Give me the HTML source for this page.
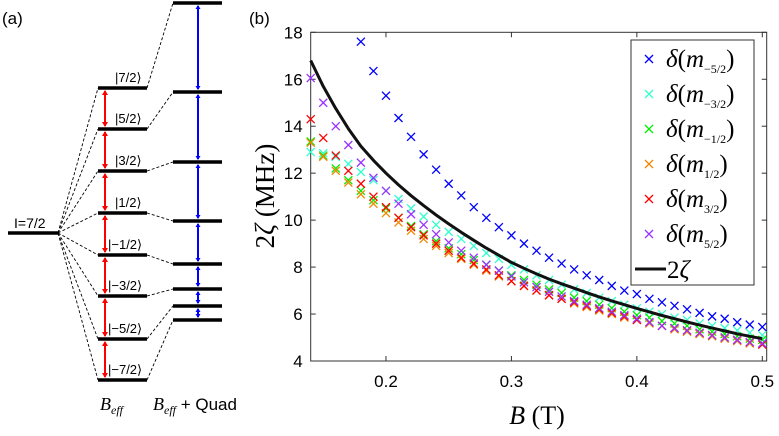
<!DOCTYPE html>
<html><head><meta charset="utf-8"><style>
html,body{margin:0;padding:0;background:#fff;}
svg{display:block;font-family:"Liberation Sans",sans-serif;}
.serif{font-family:"Liberation Serif",serif;}
</style></head><body>
<svg id="fig" width="779" height="436" viewBox="0 0 779 436">
<g id="panelA"></g>
<g id="panelB"></g>
</svg>
<script>
const NS="http://www.w3.org/2000/svg";
function mk(tag,attrs,parent,text){const e=document.createElementNS(NS,tag);for(const k in attrs)e.setAttribute(k,attrs[k]);if(text!==undefined)e.textContent=text;parent.appendChild(e);return e;}

// ---------- Panel (a) ----------
const A=document.getElementById('panelA');
const t=mk('text',{x:2,y:24,'font-size':17},A,'(a)');


const beffY=[88,129,171,213,255,296,339,380];
const quadY=[3,92,162,221,264,289,306,320];
const labels=['|7/2⟩','|5/2⟩','|3/2⟩','|1/2⟩','|−1/2⟩','|−3/2⟩','|−5/2⟩','|−7/2⟩'];
const base=mk('line',{x1:8,y1:233,x2:58,y2:233,stroke:'#000','stroke-width':3.5},A);


const bl=mk('text',{x:14,y:228,'font-size':14},A,'I=7/2');


for(let i=0;i<8;i++){
  mk('line',{x1:58,y1:233,x2:98,y2:beffY[i],stroke:'#000','stroke-width':0.9,'stroke-dasharray':'3,2'},A);
  mk('line',{x1:147,y1:beffY[i],x2:173,y2:quadY[i],stroke:'#000','stroke-width':0.9,'stroke-dasharray':'3,2'},A);
  const l=mk('line',{x1:98,y1:beffY[i],x2:147,y2:beffY[i],stroke:'#000','stroke-width':3.5},A);
  
  
  const q=mk('line',{x1:173,y1:quadY[i],x2:222,y2:quadY[i],stroke:'#000','stroke-width':3.5},A);
  
  
  const tx=mk('text',{x:i<4?115:108,y:beffY[i]-6,'font-size':13},A,labels[i]);
  
  
}
for(let i=0;i<7;i++){
  const r=mk('line',{x1:105,y1:beffY[i]+3,x2:105,y2:beffY[i+1]-3,stroke:'#f00','stroke-width':2},A);
  
  
  mk('path',{d:`M102,${beffY[i]+7}L105,${beffY[i]+2}L108,${beffY[i]+7}ZM102,${beffY[i+1]-7}L105,${beffY[i+1]-2}L108,${beffY[i+1]-7}Z`,fill:'#f00'},A);
  const b=mk('line',{x1:198,y1:quadY[i]+3,x2:198,y2:quadY[i+1]-3,stroke:'#00f','stroke-width':2},A);
  
  
  mk('path',{d:`M195.5,${quadY[i]+6}L198,${quadY[i]+2}L200.5,${quadY[i]+6}ZM195.5,${quadY[i+1]-6}L198,${quadY[i+1]-2}L200.5,${quadY[i+1]-6}Z`,fill:'#00f'},A);
}
const bx=mk('text',{x:100,y:410,'font-size':18,'font-style':'italic',class:'serif'},A);
bx.innerHTML='B<tspan font-size="12" dy="4">eff</tspan>';


const qx=mk('text',{x:153,y:410,'font-size':17},A);
qx.innerHTML='<tspan class="serif" font-style="italic" font-size="18">B</tspan><tspan class="serif" font-style="italic" font-size="12" dy="4">eff</tspan><tspan dy="-4"> + Quad</tspan>';



// ---------- Panel (b) data ----------
const xs=[0.14,0.15,0.16,0.17,0.18,0.19,0.20,0.21,0.22,0.23,0.24,0.25,0.26,0.27,0.28,0.29,0.30,0.31,0.32,0.33,0.34,0.35,0.36,0.37,0.38,0.39,0.40,0.41,0.42,0.43,0.44,0.45,0.46,0.47,0.48,0.49,0.50];
const mM52=[null,null,null,null,17.6,16.35,15.3,14.35,13.55,12.8,12.15,11.55,11.05,10.55,10.1,9.7,9.35,9.0,8.7,8.4,8.15,7.9,7.65,7.45,7.2,7.0,6.85,6.65,6.5,6.35,6.2,6.05,5.9,5.8,5.65,5.55,5.45];
const mM32=[12.9,12.85,12.7,12.4,12.05,11.7,11.25,10.9,10.5,10.15,9.8,9.5,9.2,8.9,8.6,8.35,8.1,7.9,7.65,7.45,7.25,7.05,6.9,6.7,6.55,6.4,6.25,6.1,6.0,5.85,5.75,5.6,5.5,5.4,5.3,5.2,5.1];
const mM12=[13.35,12.75,12.2,11.7,11.25,10.85,10.5,10.1,9.75,9.4,9.1,8.8,8.55,8.3,8.1,7.85,7.65,7.45,7.25,7.05,6.9,6.7,6.55,6.4,6.25,6.1,5.95,5.85,5.7,5.6,5.5,5.35,5.25,5.15,5.05,4.95,4.9];
const mP12=[13.3,12.7,12.1,11.6,11.1,10.7,10.3,9.9,9.55,9.2,8.9,8.6,8.35,8.1,7.85,7.6,7.4,7.2,7.0,6.8,6.65,6.45,6.3,6.15,6.0,5.85,5.75,5.6,5.5,5.35,5.25,5.15,5.05,4.95,4.85,4.75,4.7];
const mP32=[14.3,13.5,12.75,12.1,11.55,11.0,10.55,10.1,9.7,9.35,9.0,8.7,8.4,8.15,7.9,7.65,7.4,7.2,7.0,6.8,6.65,6.5,6.35,6.2,6.05,5.9,5.75,5.65,5.5,5.4,5.3,5.2,5.1,5.0,4.9,4.8,4.7];
const mP52=[16.05,15.0,14.0,13.2,12.45,11.8,11.25,10.7,10.25,9.8,9.4,9.05,8.7,8.4,8.1,7.85,7.6,7.35,7.15,6.95,6.75,6.55,6.4,6.25,6.1,5.95,5.8,5.65,5.5,5.4,5.3,5.2,5.1,5.0,4.9,4.8,4.75];
const zeta2=[16.8,15.7,14.75,13.9,13.15,12.55,12.0,11.5,11.04,10.62,10.22,9.84,9.48,9.14,8.81,8.5,8.2,7.95,7.71,7.49,7.29,7.10,6.91,6.73,6.56,6.40,6.24,6.09,5.94,5.80,5.66,5.53,5.40,5.28,5.16,5.05,4.95];
const xTicks=[0.2,0.3,0.4,0.5];
const yTicks=[4,6,8,10,12,14,16,18];
const seriesColors=['#0000ff','#33ffcc','#00ee00','#ee8800','#ff0000','#9933ff'];
const seriesSubs=['−5/2','−3/2','−1/2','1/2','3/2','5/2'];

const L=310.7,R=766.7,T=32.3,Bt=361;
const X=v=>L+(v-0.14)/(0.5035-0.14)*(R-L);
const Y=v=>Bt-(v-4)/14*(Bt-T);

const P=document.getElementById('panelB');
const pl=mk('text',{x:249,y:24,'font-size':17},P,'(b)');


const box=mk('rect',{x:L,y:T,width:R-L,height:Bt-T,fill:'none',stroke:'#333','stroke-width':1},P);


yTicks.forEach(v=>{
  mk('line',{x1:L,y1:Y(v),x2:L+5,y2:Y(v),stroke:'#333'},P);
  mk('line',{x1:R,y1:Y(v),x2:R-5,y2:Y(v),stroke:'#333'},P);
  const tl=mk('text',{x:L-8,y:Y(v)+6,'font-size':17,'text-anchor':'end'},P,String(v));
  
  
});
xTicks.forEach(v=>{
  mk('line',{x1:X(v),y1:Bt,x2:X(v),y2:Bt-5,stroke:'#333'},P);
  mk('line',{x1:X(v),y1:T,x2:X(v),y2:T+5,stroke:'#333'},P);
  const tl=mk('text',{x:X(v),y:Bt+26,'font-size':17,'text-anchor':'middle'},P,String(v));
  
  
});
const yl=mk('text',{x:0,y:0,'font-size':27,class:'serif','text-anchor':'middle',transform:'translate(274,196) rotate(-90)'},P);
yl.innerHTML='2<tspan font-style="italic">ζ</tspan> (MHz)';


const xl=mk('text',{x:537,y:424,'font-size':26,class:'serif','text-anchor':'middle'},P);
xl.innerHTML='<tspan font-style="italic">B</tspan> (T)';



const allSeries=[mM52,mM32,mM12,mP12,mP32,mP52];
function cross(cx,cy,col,parent){
  return mk('path',{d:`M${cx-4},${cy-4}L${cx+4},${cy+4}M${cx-4},${cy+4}L${cx+4},${cy-4}`,stroke:col,'stroke-width':1.3,fill:'none'},parent);
}
allSeries.forEach((s,si)=>{
  const g=mk('g',{},P);
  
  
  s.forEach((v,i)=>{
    if(v===null)return;
    const c=cross(X(xs[i]),Y(v),seriesColors[si],g);
    
    
  });
});
const d=zeta2.map((v,i)=>(i?'L':'M')+X(xs[i]).toFixed(1)+','+Y(v).toFixed(1)).join('');
const ln=mk('path',{d:d,stroke:'#111','stroke-width':3,fill:'none','stroke-linejoin':'round'},P);



// legend
const lg=mk('g',{},P);


mk('rect',{x:631,y:40,width:123,height:245,fill:'#fff',stroke:'#333','stroke-width':1},lg);
seriesSubs.forEach((sub,i)=>{
  const y=59+i*35;
  const c=cross(649,y,seriesColors[i],lg);
  
  
  const tx=mk('text',{x:666,y:y+8,'font-size':25,class:'serif'},lg);
  tx.innerHTML='<tspan font-style="italic">δ</tspan>(<tspan font-style="italic">m</tspan><tspan font-size="12" dy="6">'+sub+'</tspan><tspan dy="-6">)</tspan>';
  
  
});
mk('line',{x1:635,y1:269,x2:666,y2:269,stroke:'#111','stroke-width':3},lg);
const zt=mk('text',{x:667,y:278,'font-size':25,class:'serif'},lg);
zt.innerHTML='2<tspan font-style="italic">ζ</tspan>';


</script>
</body></html>
